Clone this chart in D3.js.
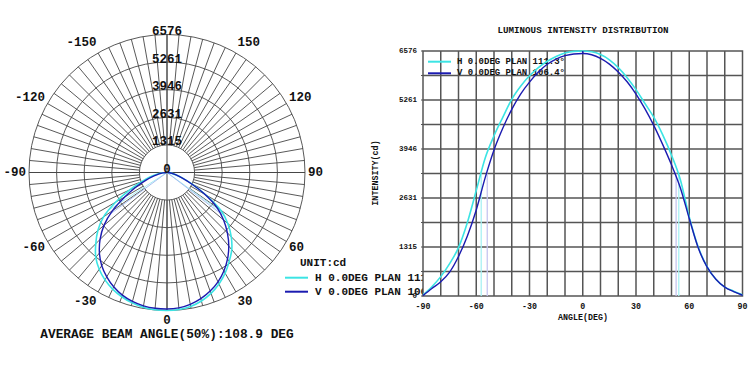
<!DOCTYPE html>
<html>
<head>
<meta charset="utf-8">
<script src="https://cdn.jsdelivr.net/npm/d3@7"></script>
<style>
  body { margin: 0; background: #fff; }
  svg { display: block; }
  text { font-family: "Liberation Mono", "Courier New", monospace; font-weight: bold; fill: #111; }
</style>
</head>
<body>
<div id="visContainer"></div>
<script>
// measured angles (deg) and intensities (cd) for the two planes
const angles = [-90,-85,-80,-75,-70,-65,-60,-55,-50,-45,-40,-35,-30,-25,-20,-15,-10,-5,0,5,10,15,20,25,30,35,40,45,50,55,60,65,70,75,80,85,90];
const hIntensity = [30,250,520,870,1300,1975,2830,3700,4300,4800,5280,5630,5910,6130,6300,6430,6520,6565,6576,6555,6480,6340,6130,5860,5540,5170,4800,4330,3780,3120,2120,1320,790,450,240,130,30];
const vIntensity = [10,200,380,640,1060,1610,2310,3170,3920,4510,5010,5420,5740,6010,6220,6360,6450,6495,6507,6475,6380,6225,6015,5750,5420,5030,4580,4070,3520,2900,2080,1300,780,450,240,120,20];
const hBeam = [-57.2, 54.1];
const vBeam = [-53.8, 52.6];
const maxI = 6576;
const ringTicks = [1315, 2631, 3946, 5261, 6576];
const polarAngleTicks = [-150, -120, -90, -60, -30, 0, 30, 60, 90, 120, 150];
const xTicks = [-90, -60, -30, 0, 30, 60, 90];
const yTicks = [0, 1315, 2631, 3946, 5261, 6576];
const seriesNames = ["H 0.0DEG PLAN 111.3°", "V 0.0DEG PLAN 106.4°"];

const hColor = "#3ce4e4";
const vColor = "#1b1bb0";

const width = 750;
const height = 367;

const svg = d3.select("#visContainer")
  .append("svg")
  .attr("width", width)
  .attr("height", height);

svg.append("rect").attr("width", width).attr("height", height).attr("fill", "#fff");

const hData = angles.map((a, i) => [a, hIntensity[i]]);
const vData = angles.map((a, i) => [a, vIntensity[i]]);

// ---------- polar chart ----------
const cx = 167, cy = 172.5, R = 138;
const rScale = d3.scaleLinear().domain([0, maxI]).range([0, R]);
// 0 deg points down, positive angles to the right
const aScale = d3.scaleLinear().domain([-180, 180]).range([2 * Math.PI, 0]);

const polar = svg.append("g").attr("transform", `translate(${cx},${cy})`);
const gridColor = "#464646";

polar.selectAll("circle.ring")
  .data(ringTicks)
  .join("circle")
  .attr("r", d => rScale(d))
  .attr("fill", "none")
  .attr("stroke", gridColor)
  .attr("stroke-width", 0.9);

const spokes = d3.range(-180, 180, 5);
polar.selectAll("line.spoke")
  .data(spokes)
  .join("line")
  .attr("x1", d => rScale(ringTicks[0]) * Math.sin(aScale(d)))
  .attr("y1", d => -rScale(ringTicks[0]) * Math.cos(aScale(d)))
  .attr("x2", d => R * Math.sin(aScale(d)))
  .attr("y2", d => -R * Math.cos(aScale(d)))
  .attr("stroke", gridColor)
  .attr("stroke-width", 0.9);

// full diameters
polar.append("line").attr("x1", -R).attr("x2", R).attr("y1", 0).attr("y2", 0)
  .attr("stroke", gridColor).attr("stroke-width", 1);
polar.append("line").attr("x1", 0).attr("x2", 0).attr("y1", -R).attr("y2", R)
  .attr("stroke", gridColor).attr("stroke-width", 1);

// beam lines
const beamPolar = [
  ...hBeam.map(b => ({ a: b, c: "#a6ecf4" })),
  ...vBeam.map(b => ({ a: b, c: "#a9c0f0" }))
];
polar.selectAll("line.beam")
  .data(beamPolar)
  .join("line")
  .attr("x1", 0).attr("y1", 0)
  .attr("x2", d => rScale(maxI / 2) * Math.sin(aScale(d.a)))
  .attr("y2", d => -rScale(maxI / 2) * Math.cos(aScale(d.a)))
  .attr("stroke", d => d.c)
  .attr("stroke-width", 1);

const radial = d3.lineRadial()
  .angle(d => aScale(d[0]))
  .radius(d => rScale(d[1]))
  .curve(d3.curveCatmullRom);

polar.append("path").attr("d", radial(hData))
  .attr("fill", "none").attr("stroke", hColor).attr("stroke-width", 1.6);
polar.append("path").attr("d", radial(vData))
  .attr("fill", "none").attr("stroke", vColor).attr("stroke-width", 1.4);

// ring labels
polar.selectAll("text.ringlabel")
  .data([0, ...ringTicks])
  .join("text")
  .attr("x", 0)
  .attr("y", d => -rScale(d) + 0.5)
  .attr("text-anchor", "middle")
  .style("font-size", "12.5px")
  .text(d => d);

// angle labels
polar.selectAll("text.anglelabel")
  .data(polarAngleTicks)
  .join("text")
  .attr("x", d => (R + 3) * Math.sin(aScale(d)))
  .attr("y", d => -(d === 0 ? 148 : 150) * Math.cos(aScale(d)))
  .attr("dominant-baseline", "central")
  .attr("text-anchor", d => d > 0 ? "start" : d < 0 ? "end" : "middle")
  .style("font-size", "12.5px")
  .text(d => d);

svg.append("text")
  .attr("x", cx).attr("y", 334)
  .attr("text-anchor", "middle")
  .attr("dominant-baseline", "central")
  .style("font-size", "12.8px")
  .text("AVERAGE BEAM ANGLE(50%):108.9 DEG");

// polar legend
svg.append("text").attr("x", 300).attr("y", 263)
  .attr("dominant-baseline", "central").style("font-size", "11px").text("UNIT:cd");
const polarLegend = svg.selectAll("g.plegend")
  .data(seriesNames)
  .join("g")
  .attr("transform", (d, i) => `translate(285,${277.7 + i * 14})`);
polarLegend.append("line").attr("x1", 0).attr("x2", 23)
  .attr("stroke", (d, i) => i === 0 ? hColor : vColor).attr("stroke-width", 2);
polarLegend.append("text").attr("x", 30)
  .attr("dominant-baseline", "central").style("font-size", "11px").text(d => d);

// ---------- cartesian chart ----------
const x = d3.scaleLinear().domain([-90, 90]).range([423, 742.5]);
const y = d3.scaleLinear().domain([0, maxI]).range([296, 51]);

svg.append("rect")
  .attr("x", x(-90)).attr("y", y(maxI))
  .attr("width", x(90) - x(-90)).attr("height", y(0) - y(maxI))
  .attr("fill", "#fff");

const cGrid = "#555";
svg.append("g").selectAll("line")
  .data(d3.range(-80, 90, 10))
  .join("line")
  .attr("x1", d => x(d)).attr("x2", d => x(d))
  .attr("y1", y(0)).attr("y2", y(maxI))
  .attr("stroke", cGrid).attr("stroke-width", 1.5);

svg.append("g").selectAll("line")
  .data(d3.range(1, 10).map(i => i * maxI / 10))
  .join("line")
  .attr("x1", x(-90)).attr("x2", x(90))
  .attr("y1", d => y(d)).attr("y2", d => y(d))
  .attr("stroke", cGrid).attr("stroke-width", 1.5);

svg.append("rect")
  .attr("x", x(-90)).attr("y", y(maxI))
  .attr("width", x(90) - x(-90)).attr("height", y(0) - y(maxI))
  .attr("fill", "none").attr("stroke", cGrid).attr("stroke-width", 1.5);

// small ticks on the left axis
svg.append("g").selectAll("line")
  .data(d3.range(0, 11).map(i => i * maxI / 10))
  .join("line")
  .attr("x1", x(-90) - 2).attr("x2", x(-90))
  .attr("y1", d => y(d)).attr("y2", d => y(d))
  .attr("stroke", cGrid).attr("stroke-width", 1);

svg.append("g").selectAll("text")
  .data(yTicks)
  .join("text")
  .attr("x", x(-90) - 6).attr("y", d => y(d))
  .attr("text-anchor", "end").attr("dominant-baseline", "central")
  .style("font-size", "7.5px")
  .text(d => d);

svg.append("g").selectAll("text")
  .data(xTicks)
  .join("text")
  .attr("x", d => x(d)).attr("y", 306)
  .attr("text-anchor", "middle").attr("dominant-baseline", "central")
  .style("font-size", "8.3px")
  .text(d => d);

svg.append("text").attr("x", 583).attr("y", 317)
  .attr("text-anchor", "middle").attr("dominant-baseline", "central")
  .style("font-size", "8.3px").text("ANGLE(DEG)");

svg.append("text")
  .attr("transform", "translate(375.5,173) rotate(-90)")
  .attr("text-anchor", "middle").attr("dominant-baseline", "central")
  .style("font-size", "8.4px").text("INTENSITY(cd)");

svg.append("text").attr("x", 583).attr("y", 30.5)
  .attr("text-anchor", "middle").attr("dominant-baseline", "central")
  .style("font-size", "9.2px").text("LUMINOUS INTENSITY DISTRIBUTION");

// cartesian legend
const legend = svg.selectAll("g.clegend")
  .data(seriesNames)
  .join("g")
  .attr("transform", (d, i) => `translate(428,${61.7 + i * 11.6})`);
legend.append("line").attr("x1", 0).attr("x2", 23)
  .attr("stroke", (d, i) => i === 0 ? hColor : vColor).attr("stroke-width", 2);
legend.append("text").attr("x", 29)
  .attr("dominant-baseline", "central").style("font-size", "9px").text(d => d);

// beam lines
const beamCart = [
  ...hBeam.map(b => ({ a: b, c: "#a8f2f4" })),
  ...vBeam.map(b => ({ a: b, c: "#c6c6f0" }))
];
svg.append("g").selectAll("line")
  .data(beamCart)
  .join("line")
  .attr("x1", d => x(d.a)).attr("x2", d => x(d.a))
  .attr("y1", y(0)).attr("y2", y(maxI / 2))
  .attr("stroke", d => d.c).attr("stroke-width", 1.3);

const line = d3.line()
  .x(d => x(d[0]))
  .y(d => y(d[1]))
  .curve(d3.curveMonotoneX);

svg.append("path").attr("d", line(hData))
  .attr("fill", "none").attr("stroke", hColor).attr("stroke-width", 1.6);
svg.append("path").attr("d", line(vData))
  .attr("fill", "none").attr("stroke", vColor).attr("stroke-width", 1.4);

// peak marker at 0 deg
svg.append("line")
  .attr("x1", x(0)).attr("x2", x(0))
  .attr("y1", y(vIntensity[angles.indexOf(0)])).attr("y2", y(maxI))
  .attr("stroke", vColor).attr("stroke-width", 1.4);
</script>
</body>
</html>
